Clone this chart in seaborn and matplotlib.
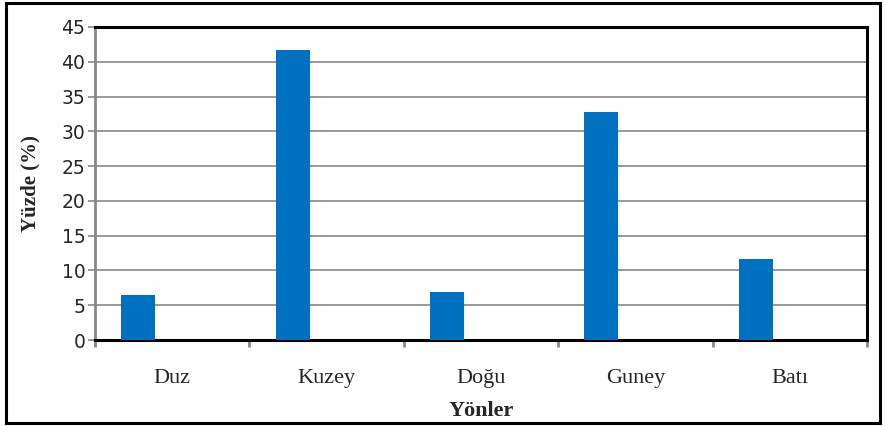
import matplotlib
matplotlib.use("Agg")
import matplotlib.pyplot as plt
from matplotlib.patches import Rectangle
from matplotlib.ticker import FixedLocator
import seaborn as sns
import pandas as pd
import numpy as np

# Share of sites by slope direction
categories = ["Duz", "Kuzey", "Doğu", "Guney", "Batı"]
values = [6.4, 41.7, 6.9, 32.8, 11.7]

df = pd.DataFrame({"Yönler": categories, "Yüzde": values})

sns.set_theme(style="white")
plt.rcParams["font.family"] = ["Liberation Serif", "DejaVu Serif"]

fig = plt.figure(figsize=(8.85, 4.26), dpi=100)
ax = fig.add_axes([95 / 885, 1 - 340 / 426, (867 - 95) / 885, (340 - 27) / 426])

sns.barplot(data=df, x="Yönler", y="Yüzde", color="#0070C0", width=0.22,
            saturation=1, linewidth=0, edgecolor="none", ax=ax, zorder=3)

# Each bar sits at the left of its category slot
n = len(categories)
ax.set_xlim(-0.28, n - 0.28)
ax.set_ylim(0, 45)
ax.set_yticks(np.arange(0, 46, 5))

ax.yaxis.grid(True, color="#888888", linewidth=1.2, zorder=0)
ax.xaxis.grid(False)

# Category labels centred in slots, tick marks at slot boundaries
ax.xaxis.set_major_locator(FixedLocator(np.arange(n) + 0.22))
ax.set_xticklabels(categories, fontsize=16)
ax.xaxis.set_minor_locator(FixedLocator(np.arange(n + 1) - 0.28))
ax.tick_params(axis="x", which="major", length=0, pad=21)
ax.tick_params(axis="x", which="minor", length=5, width=2, color="#888888",
               direction="out", bottom=True)
ax.tick_params(axis="y", length=5, width=1.2, color="#888888", direction="out",
               left=True, labelsize=13.5, pad=2)
for lbl in ax.get_yticklabels():
    lbl.set_family(["DejaVu Sans"])

ax.set_xlabel("Yönler", fontsize=16, fontweight="bold", labelpad=9)
ax.set_ylabel("Yüzde (%)", fontsize=15, fontweight="bold", labelpad=15)

for side in ["top", "right", "bottom"]:
    ax.spines[side].set_visible(True)
    ax.spines[side].set_color("black")
    ax.spines[side].set_linewidth(2.2)
ax.spines["left"].set_color("#888888")
ax.spines["left"].set_linewidth(2)

# Frame around the whole chart
fig.patches.append(Rectangle((6 / 885, 3 / 426), (880 - 6) / 885, (423 - 3) / 426,
                             transform=fig.transFigure, fill=False,
                             edgecolor="black", linewidth=2.2))

fig.savefig("out.png", dpi=100)
